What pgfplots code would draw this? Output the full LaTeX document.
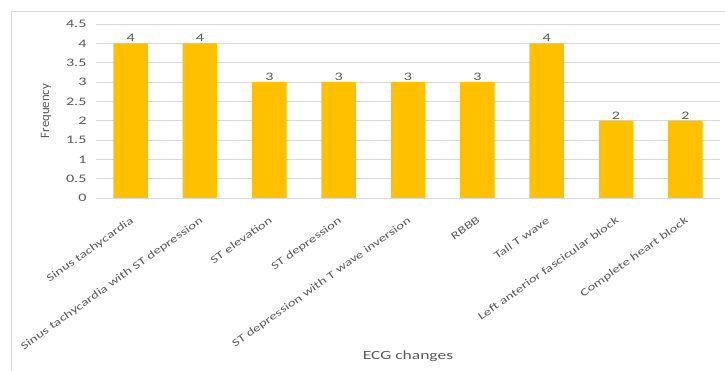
\documentclass[border=0pt]{standalone}
\usepackage{pgfplots}
\pgfplotsset{compat=1.18}
\usepackage{fontspec}
\setmainfont{Carlito}[FakeStretch=1.4]
\newfontfamily\plainf{Carlito}
\definecolor{barc}{HTML}{FFC000}
\definecolor{txtc}{HTML}{595959}
\definecolor{gridc}{HTML}{D9D9D9}
\begin{document}
\begin{tikzpicture}[x=1pt,y=1pt]
\useasboundingbox (-96,-173) rectangle (629,198);
\draw[gridc, line width=0.8pt] (-85,-174) -- (-85,187) -- (630,187);
\begin{axis}[
  at={(0,0)}, anchor=south west,
  scale only axis, width=624pt, height=174pt,
  xmin=-0.5, xmax=8.5, ymin=0, ymax=4.5,
  ytick={0,0.5,...,4.5},
  yticklabels={0,0.5,1,1.5,2,2.5,3,3.5,4,4.5},
  xtick=data,
  xticklabels={Sinus tachycardia,Sinus tachycardia with ST depression,ST elevation,ST depression,ST depression with T wave inversion,RBBB,Tall T wave,Left anterior fascicular block,Complete heart block},
  x tick label style={rotate=35.5, anchor=north east, font=\fontsize{10.6}{12}\selectfont, text=txtc, inner sep=1pt, xshift=-10pt, yshift=-13pt},
  y tick label style={font=\fontsize{11.5}{13}\selectfont, text=txtc, anchor=east, xshift=-6pt},
  /pgf/number format/assume math mode=true,
  ymajorgrids, grid style={draw=gridc, line width=0.8pt},
  axis line style={draw=none},
  major tick length=0pt,
  tick style={draw=none},
  ylabel={Frequency}, xlabel={ECG changes},
  ylabel style={font=\plainf\fontsize{12.8}{14}\selectfont, text=txtc, at={(axis description cs:-0.0801,0.5)}, anchor=center},
  xlabel style={font=\fontsize{12.5}{14}\selectfont, text=txtc, at={(axis description cs:0.5,0)}, anchor=center, yshift=-158pt},
  ybar, bar width=34.5pt,
  nodes near coords,
  every node near coord/.append style={font=\fontsize{11.5}{13}\selectfont, text=txtc, yshift=-2pt},
  clip=false,
]
\addplot[fill=barc, draw=none] coordinates {(0,4) (1,4) (2,3) (3,3) (4,3) (5,3) (6,4) (7,2) (8,2)};
\end{axis}
\end{tikzpicture}
\end{document}
